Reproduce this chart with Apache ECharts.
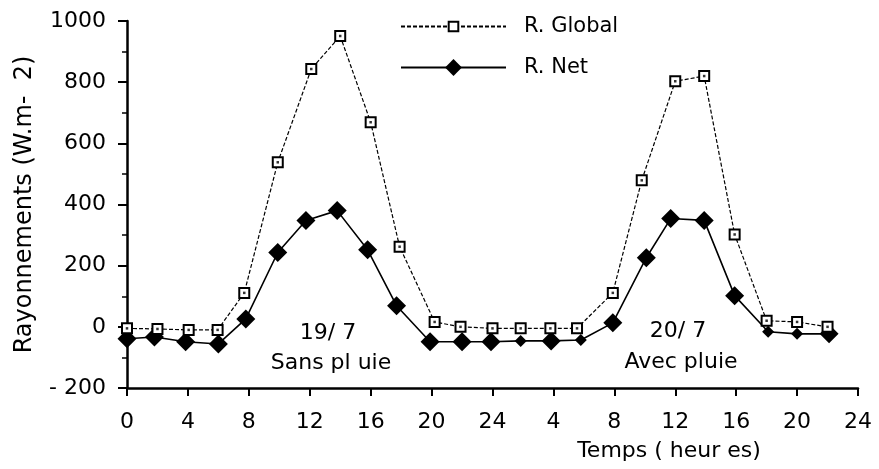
<!DOCTYPE html>
<html>
<head>
<meta charset="utf-8">
<script src="https://cdn.jsdelivr.net/npm/echarts@6/dist/echarts.min.js"></script>
<style>
  html, body { margin: 0; padding: 0; background: #fff; }
  #chart { width: 879px; height: 469px; }
</style>
</head>
<body>
<div id="chart"></div>
<script>
// heures (0-48 : deux journées) et valeurs
var hoursGlobal = [0, 2, 4.05, 5.95, 7.7, 9.9, 12.1, 14, 16, 17.9, 20.2, 21.9,
                   24, 25.85, 27.8, 29.55, 31.9, 33.8, 36, 37.9, 39.9, 42, 44, 46];
var valuesGlobal = [-5, -7, -10, -10, 111, 538, 843, 951, 669, 262, 16, 0,
                    -5, -5, -5, -5, 111, 479, 803, 820, 302, 20, 16, 0];

var hoursNet = [0, 1.8, 3.85, 6, 7.8, 9.9, 11.75, 13.8, 15.8, 17.7, 19.9, 22,
                23.9, 25.85, 27.85, 29.8, 31.9, 34.1, 35.7, 37.9, 39.9, 42.1, 44, 46.1];
var valuesNet = [-39, -33, -49, -56, 26, 243, 348, 380, 252, 69, -49, -49,
                 -49, -46, -46, -43, 13, 226, 354, 348, 102, -16, -23, -23];

// étiquettes des axes
var xTickLabels = ['0', '4', '8', '12', '16', '20', '24', '4', '8', '12', '16', '20', '24'];
var yTickLabels = ['- 200', '0', '200', '400', '600', '800', '1000'];

// petits losanges sur la figure
var smallNetMarks = [13, 15, 21, 22];

function pairs(xs, ys) {
  return xs.map(function (x, i) { return [x, ys[i]]; });
}

var font = "'DejaVu Sans', sans-serif";
var chart = echarts.init(document.getElementById('chart'));

var legendBase = {
  orient: 'vertical',
  left: 395,
  itemWidth: 105,
  textStyle: { fontSize: 21, color: '#000', fontFamily: font, padding: [0, 0, 0, 13] }
};

chart.setOption({
  animation: false,
  backgroundColor: '#fff',
  textStyle: { fontFamily: font, color: '#000' },
  grid: { left: 127, right: 21, top: 21, bottom: 81 },
  legend: [
    Object.assign({}, legendBase, { data: ['R. Global'], top: 11, itemHeight: 12 }),
    Object.assign({}, legendBase, { data: ['R. Net'], top: 52, itemHeight: 21 })
  ],
  xAxis: {
    type: 'value',
    min: 0,
    max: 48,
    interval: 4,
    axisLine: { onZero: false, lineStyle: { color: '#000', width: 2.5 } },
    axisTick: { length: 8, lineStyle: { color: '#000', width: 2 } },
    axisLabel: {
      fontSize: 22, color: '#000', margin: 23, fontFamily: font,
      formatter: function (v) { return xTickLabels[Math.round(v / 4)]; }
    },
    splitLine: { show: false }
  },
  yAxis: {
    type: 'value',
    min: -200,
    max: 1000,
    interval: 200,
    name: 'Rayonnements (W.m-  2)',
    nameLocation: 'middle',
    nameGap: 90,
    nameTextStyle: { fontSize: 24, color: '#000', fontFamily: font },
    axisLine: { show: true, lineStyle: { color: '#000', width: 2.5 } },
    axisTick: { show: true, length: 9, lineStyle: { color: '#000', width: 2 } },
    minorTick: { show: true, splitNumber: 2, length: 5, lineStyle: { color: '#000', width: 1.5 } },
    axisLabel: {
      fontSize: 22, color: '#000', margin: 21, fontFamily: font,
      formatter: function (v) { return yTickLabels[Math.round((v + 200) / 200)]; }
    },
    splitLine: { show: false }
  },
  series: [
    {
      name: 'R. Global',
      type: 'line',
      data: pairs(hoursGlobal, valuesGlobal),
      symbol: 'rect',
      symbolSize: 10,
      lineStyle: { color: '#000', width: 1.2, type: [4, 2] },
      itemStyle: { color: '#fff', borderColor: '#000', borderWidth: 2 },
      z: 3
    },
    {
      name: 'R. Global dot',
      type: 'scatter',
      data: pairs(hoursGlobal, valuesGlobal),
      symbol: 'rect',
      symbolSize: 2.5,
      itemStyle: { color: '#000' },
      silent: true,
      z: 4
    },
    {
      name: 'R. Net',
      type: 'line',
      data: pairs(hoursNet, valuesNet),
      symbol: 'diamond',
      symbolSize: function (val, p) {
        return smallNetMarks.indexOf(p.dataIndex) >= 0 ? 12 : 19;
      },
      lineStyle: { color: '#000', width: 1.6 },
      itemStyle: { color: '#000' },
      z: 2
    }
  ],
  graphic: [
    { type: 'text', x: 328, y: 333, style: { text: '19/ 7', font: '22px ' + font, fill: '#000', align: 'center', verticalAlign: 'middle' } },
    { type: 'text', x: 331, y: 363, style: { text: 'Sans pl uie', font: '22px ' + font, fill: '#000', align: 'center', verticalAlign: 'middle' } },
    { type: 'text', x: 678, y: 331, style: { text: '20/ 7', font: '22px ' + font, fill: '#000', align: 'center', verticalAlign: 'middle' } },
    { type: 'text', x: 681, y: 362, style: { text: 'Avec pluie', font: '22px ' + font, fill: '#000', align: 'center', verticalAlign: 'middle' } },
    { type: 'text', x: 669, y: 451, style: { text: 'Temps ( heur es)', font: '22px ' + font, fill: '#000', align: 'center', verticalAlign: 'middle' } }
  ]
});
</script>
</body>
</html>
